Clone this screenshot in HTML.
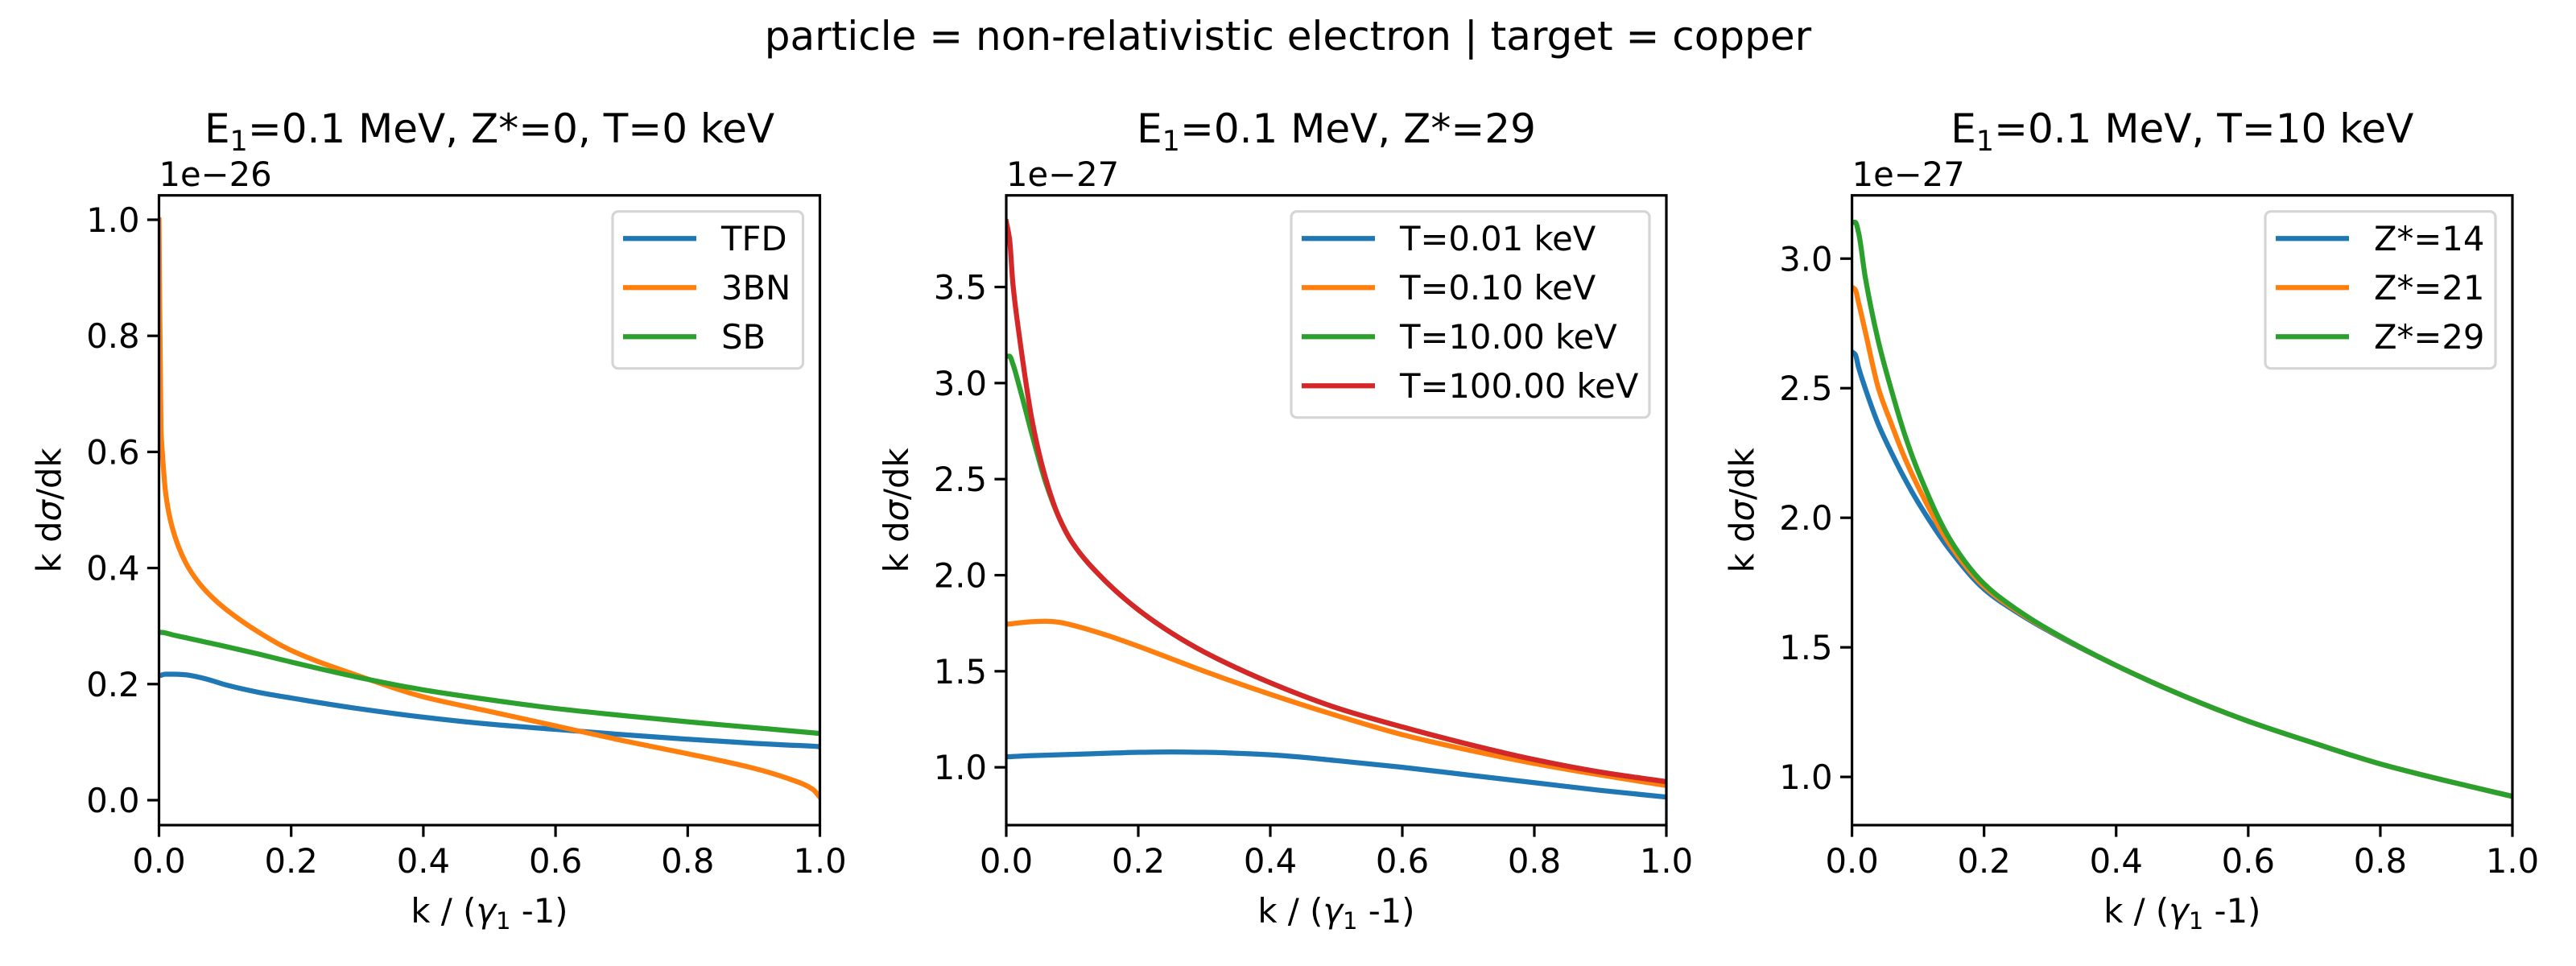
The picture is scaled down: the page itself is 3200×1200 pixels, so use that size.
<!DOCTYPE html>
<html><head><meta charset="utf-8"><style>
html,body{margin:0;padding:0;background:#fff;}
svg{display:block;font-family:"DejaVu Sans","Liberation Sans",sans-serif;}
</style></head><body>
<svg id="fig" width="3200" height="1200" viewBox="0 0 3200 1200" xmlns="http://www.w3.org/2000/svg">
<rect width="3200" height="1200" fill="#fff"/>
<text x="1600" y="62" font-size="50" text-anchor="middle">particle = non-relativistic electron | target = copper</text>
</svg>
<script>
// ---- data ----
const kGrid1 = [0,0.003,0.005,0.01,0.02,0.04,0.06,0.08,0.1,0.15,0.2,0.3,0.4,0.5,0.6,0.7,0.8,0.9,0.95,0.99,1.0];
const p1TFD = [0.215,0.215,0.216,0.217,0.217,0.216,0.212,0.206,0.199,0.186,0.176,0.158,0.143,0.131,0.122,0.113,0.105,0.098,0.095,0.093,0.092];
const p1ThreeBN = [1.0,0.64,0.6,0.53,0.47,0.41,0.375,0.35,0.33,0.29,0.258,0.215,0.178,0.153,0.128,0.103,0.08,0.055,0.038,0.018,0.005];
const p1SB = [0.29,0.289,0.289,0.288,0.285,0.28,0.275,0.27,0.265,0.252,0.238,0.212,0.19,0.173,0.158,0.146,0.135,0.125,0.12,0.116,0.115];
const kGrid2 = [0,0.005,0.01,0.02,0.04,0.06,0.08,0.1,0.15,0.2,0.25,0.3,0.4,0.5,0.6,0.7,0.8,0.9,1.0];
const p2T001 = [1.055,1.055,1.056,1.058,1.061,1.063,1.065,1.067,1.073,1.078,1.08,1.078,1.065,1.035,1.0,0.96,0.92,0.88,0.845];
const p2T010 = [1.745,1.746,1.748,1.752,1.758,1.76,1.755,1.74,1.69,1.63,1.565,1.5,1.38,1.27,1.17,1.09,1.02,0.96,0.905];
const p2T10 = [3.14,3.14,3.1,2.98,2.72,2.48,2.3,2.17,1.97,1.82,1.70,1.60,1.44,1.31,1.21,1.12,1.04,0.975,0.925];
const p2T100 = [3.84,3.75,3.52,3.24,2.79,2.5,2.3,2.17,1.97,1.82,1.70,1.60,1.44,1.31,1.21,1.12,1.04,0.975,0.925];
const kGrid3 = [0,0.005,0.01,0.02,0.04,0.06,0.08,0.1,0.15,0.2,0.25,0.3,0.4,0.5,0.6,0.7,0.8,0.9,1.0];
const p3Z14 = [2.64,2.63,2.58,2.5,2.36,2.25,2.15,2.06,1.87,1.725,1.635,1.56,1.43,1.315,1.215,1.13,1.05,0.985,0.925];
const p3Z21 = [2.89,2.88,2.83,2.72,2.5,2.36,2.23,2.12,1.89,1.735,1.64,1.563,1.43,1.315,1.215,1.13,1.05,0.985,0.925];
const p3Z29 = [3.14,3.14,3.1,2.93,2.68,2.49,2.32,2.18,1.91,1.745,1.645,1.565,1.43,1.315,1.215,1.13,1.05,0.985,0.925];
const xTicks = [0,0.2,0.4,0.6,0.8,1.0];
const xTickLabels = ["0.0","0.2","0.4","0.6","0.8","1.0"];
const y1Ticks = [0,0.2,0.4,0.6,0.8,1.0];
const y1TickLabels = ["0.0","0.2","0.4","0.6","0.8","1.0"];
const y2Ticks = [1.0,1.5,2.0,2.5,3.0,3.5];
const y2TickLabels = ["1.0","1.5","2.0","2.5","3.0","3.5"];
const y3Ticks = [1.0,1.5,2.0,2.5,3.0];
const y3TickLabels = ["1.0","1.5","2.0","2.5","3.0"];
const legend1 = ["TFD","3BN","SB"];
const legend2 = ["T=0.01 keV","T=0.10 keV","T=10.00 keV","T=100.00 keV"];
const legend3 = ["Z*=14","Z*=21","Z*=29"];

const NS="http://www.w3.org/2000/svg";
const svg=document.getElementById('fig');
const C=["#1f77b4","#ff7f0e","#2ca02c","#d62728"];
function mk(tag,attrs,parent){const e=document.createElementNS(NS,tag);for(const k in attrs)e.setAttribute(k,attrs[k]);(parent||svg).appendChild(e);return e;}

function monoPath(px,py){
  const n=px.length, d=[], m=new Array(n);
  for(let i=0;i<n-1;i++) d.push((py[i+1]-py[i])/(px[i+1]-px[i]));
  m[0]=d[0]; m[n-1]=d[n-2];
  for(let i=1;i<n-1;i++){
    if(d[i-1]*d[i]<=0) m[i]=0;
    else { const w1=2*(px[i+1]-px[i])+(px[i]-px[i-1]), w2=(px[i+1]-px[i])+2*(px[i]-px[i-1]);
      m[i]=(w1+w2)/(w1/d[i-1]+w2/d[i]); }
  }
  let s='M'+px[0].toFixed(2)+','+py[0].toFixed(2);
  for(let i=0;i<n-1;i++){
    const h=(px[i+1]-px[i])/3;
    s+='C'+(px[i]+h).toFixed(2)+','+(py[i]+m[i]*h).toFixed(2)+' '+(px[i+1]-h).toFixed(2)+','+(py[i+1]-m[i+1]*h).toFixed(2)+' '+px[i+1].toFixed(2)+','+py[i+1].toFixed(2);
  }
  return s;
}

function panel(o){
  const g=mk('g',{});
  
  
  const L=o.left,R=o.right,T=242.7,B=1025;
  const sx=v=>L+(v-0)/(1-0)*(R-L);
  const sy=v=>B-(v-o.ymin)/(o.ymax-o.ymin)*(B-T);
  const cp=mk('clipPath',{id:'clip'+o.id},g);mk('rect',{x:L,y:T,width:R-L,height:B-T},cp);
  o.series.forEach((s,i)=>{
    const d=monoPath(o.k.map(sx),s.map(sy));
    const p=mk('path',{d:d,fill:'none',stroke:C[i],'stroke-width':6.25,'stroke-linejoin':'round','stroke-linecap':'square','clip-path':'url(#clip'+o.id+')'},g);
    
    
  });
  const fr=mk('rect',{x:L,y:T,width:R-L,height:B-T,fill:'none',stroke:'#000','stroke-width':3.2},g);
  
  
  xTicks.forEach((t,i)=>{
    mk('line',{x1:sx(t),x2:sx(t),y1:B,y2:B+14.6,stroke:'#000','stroke-width':3.2},g);
    const tx=mk('text',{x:sx(t),y:B+59,'font-size':41.7,'text-anchor':'middle'},g);
    tx.textContent=xTickLabels[i];
    
    
  });
  o.yt.forEach((t,i)=>{
    mk('line',{x1:L-14.6,x2:L,y1:sy(t),y2:sy(t),stroke:'#000','stroke-width':3.2},g);
    const tx=mk('text',{x:L-24,y:sy(t)+15,'font-size':41.7,'text-anchor':'end'},g);
    tx.textContent=o.ytl[i];
    
    
  });
  const off=mk('text',{x:L,y:231,'font-size':41.7},g);off.textContent=o.offset;
  
  
  const xl=mk('text',{x:(L+R)/2,y:1146,'font-size':41.7,'text-anchor':'middle'},g);
  xl.innerHTML='k / (<tspan font-style="italic">γ</tspan><tspan font-size="29" dy="8">1</tspan><tspan dy="-8"> -1)</tspan>';
  
  
  const yl=mk('text',{x:0,y:0,'font-size':41.7,'text-anchor':'middle',transform:'translate('+(L-122)+','+((T+B)/2)+') rotate(-90)'},g);
  yl.innerHTML='k d<tspan font-style="italic">σ</tspan>/dk';
  
  
  const ti=mk('text',{x:(L+R)/2,y:177,'font-size':50,'text-anchor':'middle'},g);
  ti.innerHTML='E<tspan font-size="35" dy="10">1</tspan><tspan dy="-10">'+o.title+'</tspan>';
  
  
  const lg=mk('g',{},g);
  
  
  const lx=o.leg, lw=R-21-lx, lh=o.labels.length*61+12;
  mk('rect',{x:lx,y:T+20,width:lw,height:lh,rx:7,fill:'#fff','fill-opacity':0.8,stroke:'#d5d5d5','stroke-width':3.2},lg);
  o.labels.forEach((lab,i)=>{
    const y=T+53.5+i*61;
    mk('line',{x1:lx+13,x2:lx+104,y1:y,y2:y,stroke:C[i],'stroke-width':6.25},lg);
    const t=mk('text',{x:lx+135,y:y+15,'font-size':41.7},lg);t.textContent=lab;
    
    
  });
}
panel({id:1,name:'panel-z0',left:197.5,right:1018.5,ymin:-0.043,ymax:1.042,k:kGrid1,series:[p1TFD,p1ThreeBN,p1SB],yt:y1Ticks,ytl:y1TickLabels,offset:'1e−26',title:'=0.1 MeV, Z*=0, T=0 keV',labels:legend1,leg:761});
panel({id:2,name:'panel-z29',left:1250,right:2070,ymin:0.699,ymax:3.977,k:kGrid2,series:[p2T001,p2T010,p2T10,p2T100],yt:y2Ticks,ytl:y2TickLabels,offset:'1e−27',title:'=0.1 MeV, Z*=29',labels:legend2,leg:1604});
panel({id:3,name:'panel-t10',left:2300.6,right:3121,ymin:0.814,ymax:3.244,k:kGrid3,series:[p3Z14,p3Z21,p3Z29],yt:y3Ticks,ytl:y3TickLabels,offset:'1e−27',title:'=0.1 MeV, T=10 keV',labels:legend3,leg:2814});
</script>
</body></html>
